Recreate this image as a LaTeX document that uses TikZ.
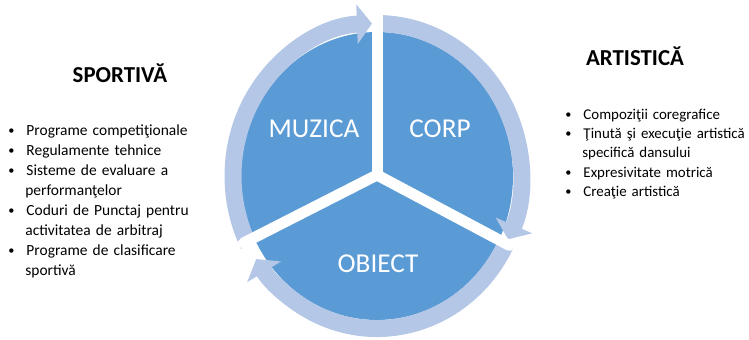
\documentclass[tikz,border=0pt]{standalone}
\usepackage{fontspec}
\setmainfont{Carlito}
\usetikzlibrary{arrows.meta, calc}

\definecolor{pieblue}{RGB}{91,155,213}
\definecolor{ringblue}{RGB}{180,199,231}

\newenvironment{points}{\begin{list}{\raisebox{0.7pt}{\fontsize{7}{7}\selectfont\textbullet}}{\setlength{\leftmargin}{0.34cm}\setlength{\labelwidth}{0.1cm}\setlength{\labelsep}{0.24cm}\setlength{\itemsep}{0pt}\setlength{\parsep}{0pt}\setlength{\topsep}{0pt}\setlength{\partopsep}{0pt}}}{\end{list}}

\begin{document}
\begin{tikzpicture}[x=0.02cm, y=0.02cm]
    \tikzstyle{ring} = [ringblue, line width=0.34cm, -{Triangle[width=0.78cm, length=0.3cm]}]
    \tikzstyle{gap} = [white, line width=0.22cm, line cap=round]
    \tikzstyle{part} = [text=white, font=\fontsize{15.5}{18}\selectfont]
    \tikzstyle{head} = [anchor=base, font=\fontsize{13}{16}\selectfont\bfseries]
    \tikzstyle{list} = [anchor=base west, inner sep=0pt, text width=4.2cm, align=left, font=\fontsize{8.8}{11.35}\selectfont]

    \useasboundingbox (0,0) rectangle (749,339);

    % cycle
    \coordinate (c) at (377,163);
    \coordinate (j) at (377,164);
    \fill[pieblue] (c) ellipse [x radius=136, y radius=144];

    \draw[ring] ($(c)+(207:144 and 152.5)$) arc[start angle=207, end angle=92, x radius=144, y radius=152.5];
    \draw[ring] ($(c)+(88:144 and 152.5)$) arc[start angle=88, end angle=-24.5, x radius=144, y radius=152.5];
    \draw[ring] ($(c)+(-26:144 and 152.5)$) arc[start angle=-26, end angle=-147, x radius=144, y radius=152.5];

    \draw[gap] (j) -- ++(90:175);
    \draw[gap] (j) -- ++(207:150);
    \draw[gap] (j) -- ++(332:150);

    \node[part] (muzica) at (314,210) {MUZICA};
    \node[part] (corp) at (440,210) {CORP};
    \node[part] (obiect) at (378,75) {OBIECT};

    % left and right
    \node[head] (sportiva) at (120,257) {SPORTIVĂ};
    \node[head] (artistica) at (635,274) {ARTISTICĂ};

    \node[list] (sportlist) at (8,223) {\begin{points}
        \item Programe competiţionale
        \item Regulamente tehnice
        \item Sisteme de evaluare a\newline performanţelor
        \item Coduri de Punctaj pentru\newline activitatea de arbitraj
        \item Programe de clasificare\newline sportivă
    \end{points}};
    \node[list, font=\fontsize{8.5}{11}\selectfont] (artlist) at (565,239) {\begin{points}
        \item Compoziţii coregrafice
        \item Ţinută şi execuţie artistică\newline specifică dansului
        \item Expresivitate motrică
        \item Creaţie artistică
    \end{points}};
\end{tikzpicture}
\end{document}
